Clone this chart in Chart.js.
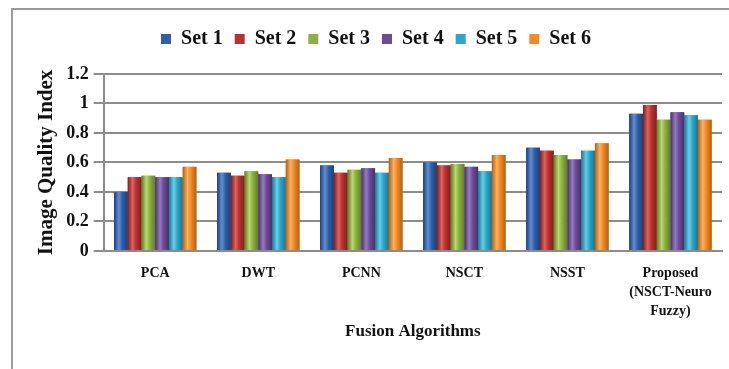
<!DOCTYPE html>
<html>
<head>
<meta charset="utf-8">
<script src="https://cdn.jsdelivr.net/npm/chart.js@4"></script>
<style>
    html, body { margin: 0; padding: 0; background: #fff; }
    #wrap { position: relative; width: 729px; height: 369px; }
    #frame {
        position: absolute; left: 11px; top: 8px; right: 0; bottom: 0;
        border-top: 2px solid #9a9a9a; border-left: 2px solid #9a9a9a;
    }
    canvas { position: absolute; left: 0; top: 0; }
</style>
</head>
<body>
<div id="wrap">
    <div id="frame"></div>
    <canvas id="iqiChart" width="729" height="369"></canvas>
</div>
<script>
// ---- datos ----
const categories = ['PCA', 'DWT', 'PCNN', 'NSCT', 'NSST', ['Proposed', '(NSCT-Neuro', 'Fuzzy)']];
const set1 = [0.40, 0.53, 0.58, 0.60, 0.70, 0.93];
const set2 = [0.50, 0.51, 0.53, 0.58, 0.68, 0.99];
const set3 = [0.51, 0.54, 0.55, 0.59, 0.65, 0.89];
const set4 = [0.50, 0.52, 0.56, 0.57, 0.62, 0.94];
const set5 = [0.50, 0.50, 0.53, 0.54, 0.68, 0.92];
const set6 = [0.57, 0.62, 0.63, 0.65, 0.73, 0.89];
const yTicks = [0, 0.2, 0.4, 0.6, 0.8, 1, 1.2];

// colores tipo Excel 2007 (base, claro, oscuro)
const palette = [
    ['#2f5fa6', '#5f8fd6', '#1d3f78'],
    ['#b83330', '#e0625e', '#7f1f1d'],
    ['#8cb140', '#b6d86c', '#5f7d27'],
    ['#6c4c97', '#9879c3', '#47306a'],
    ['#2ea6c7', '#66cfe8', '#1b7590'],
    ['#ef8a25', '#fbb060', '#b45f12']
];

const serif = "'Liberation Serif', 'Times New Roman', serif";

// sombreado cilíndrico sobre cada barra, usando la geometría del propio Chart.js
const barShade = {
    id: 'barShade',
    afterDatasetsDraw(chart) {
        const ctx = chart.ctx;
        chart.data.datasets.forEach((ds, i) => {
            const meta = chart.getDatasetMeta(i);
            const [base, light, dark] = palette[i];
            meta.data.forEach(bar => {
                const left = bar.x - bar.width / 2;
                const g = ctx.createLinearGradient(left, 0, left + bar.width, 0);
                g.addColorStop(0, dark);
                g.addColorStop(0.35, light);
                g.addColorStop(0.6, base);
                g.addColorStop(1, dark);
                ctx.save();
                ctx.fillStyle = g;
                ctx.fillRect(left, bar.y, bar.width, bar.base - bar.y);
                ctx.restore();
            });
        });
    }
};

// espacio extra bajo la leyenda
const legendGap = {
    id: 'legendGap',
    beforeInit(chart) {
        const origFit = chart.legend.fit;
        chart.legend.fit = function () {
            origFit.bind(chart.legend)();
            this.height += 15;
        };
    }
};

new Chart(document.getElementById('iqiChart'), {
    type: 'bar',
    data: {
        labels: categories,
        datasets: [set1, set2, set3, set4, set5, set6].map((data, i) => ({
            label: 'Set ' + (i + 1),
            data,
            backgroundColor: palette[i][0],
            borderWidth: 0,
            categoryPercentage: 0.8,
            barPercentage: 1.0
        }))
    },
    options: {
        responsive: false,
        animation: false,
        layout: { padding: { top: 17, left: 30, right: 7, bottom: 23 } },
        plugins: {
            legend: {
                position: 'top',
                labels: {
                    boxWidth: 10, boxHeight: 10, padding: 12,
                    color: '#111',
                    font: { family: serif, size: 20, weight: 'bold' }
                }
            },
            tooltip: { enabled: false }
        },
        scales: {
            x: {
                grid: { display: false },
                border: { color: '#8c8c8c', width: 2 },
                ticks: {
                    color: '#111', maxRotation: 0, autoSkip: false, padding: 5,
                    font: { family: serif, size: 14, weight: 'bold', lineHeight: 1.35 }
                },
                title: {
                    display: true, text: 'Fusion Algorithms', color: '#111',
                    font: { family: serif, size: 17, weight: 'bold' },
                    padding: { top: -4 }
                }
            },
            y: {
                min: 0, max: 1.2,
                afterBuildTicks: axis => { axis.ticks = yTicks.map(v => ({ value: v })); },
                grid: { color: '#8c8c8c', lineWidth: 2, tickLength: 10 },
                border: { color: '#8c8c8c', width: 2 },
                ticks: {
                    color: '#111', padding: 5,
                    callback: v => String(v),
                    font: { family: serif, size: 18, weight: 'bold' }
                },
                title: {
                    display: true, text: 'Image Quality Index', color: '#111',
                    font: { family: serif, size: 21, weight: 'bold' },
                    padding: { bottom: 2 }
                }
            }
        }
    },
    plugins: [barShade, legendGap]
});
</script>
</body>
</html>
